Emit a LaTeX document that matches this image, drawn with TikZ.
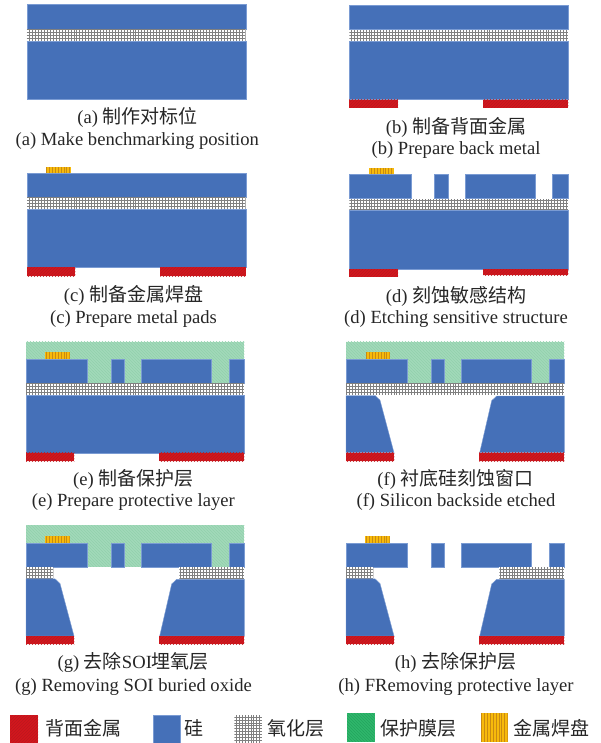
\documentclass[tikz,border=0pt]{standalone}
\usepackage{fontspec}
\setmainfont{Liberation Serif}
\newfontfamily\cjkf{Noto Sans CJK SC}
\usetikzlibrary{patterns}
\definecolor{siblue}{HTML}{4570B8}
\definecolor{siedge}{HTML}{7A9BD3}
\definecolor{metred}{HTML}{D2161E}
\definecolor{metredd}{HTML}{BC181D}
\definecolor{palegreen}{HTML}{A2D9BA}
\definecolor{palegreend}{HTML}{92D1AC}
\definecolor{deepgreen}{HTML}{2FB76C}
\definecolor{deepgreend}{HTML}{24A45E}
\definecolor{padgold}{HTML}{F7BA0B}
\definecolor{padline}{HTML}{C98A12}
\definecolor{oxline}{HTML}{808080}
\newcommand{\zh}[1]{{\fontsize{19}{21}\cjkf #1}}
\tikzset{
  siblock/.style={fill=siblue,draw=siedge,line width=.4pt},
  redmetal/.style={fill=metred,postaction={pattern=north east lines,pattern color=metredd}},
  greenfilm/.style={fill=palegreen,postaction={pattern=north west lines,pattern color=palegreend}},
  greenkey/.style={fill=deepgreen,postaction={pattern=north west lines,pattern color=deepgreend}},
  goldbase/.style={fill=padgold},
  gridline/.style={draw=oxline,line width=.45pt},
  padstripe/.style={draw=padline,line width=.5pt},
  capt/.style={anchor=base,inner sep=0pt,font=\fontsize{18.6}{20}\selectfont,text=black!85},
  keytext/.style={anchor=base west,inner sep=0pt,font=\fontsize{18}{20}\selectfont,text=black!85}
}
% x1 y1 x2 y2
\newcommand{\oxlayer}[4]{%
  \fill[white] (#1,#2) rectangle (#3,#4);
  \begin{scope}
    \clip (#1,#2) rectangle (#3,#4);
    \draw[gridline,xstep=2.95pt,ystep=2.95pt] (#1,#2) grid (#3,#4);
  \end{scope}}
\newcommand{\padlayer}[4]{%
  \fill[goldbase] (#1,#2) rectangle (#3,#4);
  \begin{scope}
    \clip (#1,#2) rectangle (#3,#4);
    \draw[padstripe,xstep=2.9pt,ystep=100pt] (#1,#2) grid (#3,#4);
  \end{scope}}
% the etched silicon device layer, left-hand column coordinates
\newcommand{\devlayer}{%
  \fill[siblock] (26,542.7) rectangle (86.7,566.7);
  \fill[siblock] (111,542.7) rectangle (124,566.7);
  \fill[siblock] (141.3,542.7) rectangle (211.3,566.7);
  \fill[siblock] (228.7,542.7) rectangle (244.3,566.7);}
\newcommand{\backside}[1]{%
  \fill[redmetal] (26,#1) rectangle (74.3,#1+8.3);
  \fill[redmetal] (159.3,#1) rectangle (244.3,#1+8.3);}
\newcommand{\etchedbulk}[1]{%
  \begin{scope}[yshift=-#1pt]
  \fill[siblock] (26,578.8) -- (55,578.8) -- (60,583.5) -- (74,636) -- (26,636) -- cycle;
  \fill[siblock] (159.7,636) -- (171.7,584) -- (176.7,579.3) -- (244.3,579.3) -- (244.3,636) -- cycle;
  \end{scope}}
\begin{document}
\begin{tikzpicture}[x=1pt,y=-1pt]
\useasboundingbox (0,0) rectangle (600,743);
% (a)
\fill[siblock] (26.7,4.7) rectangle (245.7,29);
\oxlayer{26.7}{29}{245.7}{41.3}
\fill[siblock] (26.7,41.3) rectangle (245.7,99.3);
\node[capt] (a1) at (137.5,124) {(a) \zh{制作对标位}};
\node[capt] (a2) at (137.3,145.5) {(a) Make benchmarking position};
% (b)
\fill[siblock] (349.3,5.3) rectangle (568.3,29.7);
\oxlayer{349.3}{29.7}{568.3}{41.3}
\fill[siblock] (349.3,41.3) rectangle (568.3,99.7);
\fill[redmetal] (349.3,99.7) rectangle (398,107.7);
\fill[redmetal] (483,99.7) rectangle (568.3,107.7);
\node[capt] (b1) at (456,133.5) {(b) \zh{制备背面金属}};
\node[capt] (b2) at (456,154.5) {(b) Prepare back metal};
% (c)
\fill[siblock] (27,173.3) rectangle (245.7,197);
\oxlayer{27}{197}{245.7}{209.7}
\fill[siblock] (27,209.7) rectangle (245.7,267.3);
\fill[redmetal] (27,267.3) rectangle (75.3,276);
\fill[redmetal] (160.3,267.3) rectangle (245.7,276);
\padlayer{46}{167}{71}{173.3}
\node[capt] (c1) at (133.5,301) {(c) \zh{制备金属焊盘}};
\node[capt] (c2) at (133.5,323) {(c) Prepare metal pads};
% (d)
\fill[siblock] (349.3,174.3) rectangle (410.7,198.7);
\fill[siblock] (434.3,174.3) rectangle (448,198.7);
\fill[siblock] (465,174.3) rectangle (535.3,198.7);
\fill[siblock] (552.3,174.3) rectangle (568.3,198.7);
\oxlayer{349.3}{198.7}{568.3}{210.7}
\fill[siblock] (349.3,210.7) rectangle (568.3,269);
\fill[redmetal] (349.3,269) rectangle (398,276.7);
\fill[redmetal] (483,269) rectangle (568.3,275);
\padlayer{369}{168}{393.5}{174.3}
\node[capt] (d1) at (456,302) {(d) \zh{刻蚀敏感结构}};
\node[capt] (d2) at (456,323) {(d) Etching sensitive structure};
% (e)
\fill[greenfilm] (26,341.7) rectangle (244.3,382.7);
\begin{scope}[yshift=184pt]\devlayer\end{scope}
\padlayer{45}{352.3}{69.7}{358.7}
\oxlayer{26}{382.7}{244.3}{394.7}
\fill[siblock] (26,394.7) rectangle (244.3,452.7);
\backside{452.7}
\node[capt] (e1) at (133.3,485) {(e) \zh{制备保护层}};
\node[capt] (e2) at (133.3,506.5) {(e) Prepare protective layer};
% (f)
\begin{scope}[xshift=320pt]
\fill[greenfilm] (26,341.7) rectangle (244.3,382.7);
\begin{scope}[yshift=184pt]\devlayer\end{scope}
\padlayer{45.7}{352.3}{69.7}{358.7}
\oxlayer{26}{382.7}{244.3}{394.7}
\etchedbulk{-183.3}
\backside{452.7}
\end{scope}
\node[capt] (f1) at (455.5,485) {(f) \zh{衬底硅刻蚀窗口}};
\node[capt] (f2) at (456,506.5) {(f) Silicon backside etched};
% (g)
\fill[greenfilm] (26,525.3) rectangle (244.3,566.7);
\devlayer
\padlayer{45}{536}{69.7}{542.7}
\oxlayer{26}{566.7}{53.3}{578.3}
\oxlayer{179.3}{566.7}{244.3}{578.3}
\etchedbulk{0}
\backside{636}
\node[capt] (g1) at (133.3,668.5) {(g) \zh{去除}SOI\zh{埋氧层}};
\node[capt] (g2) at (133.5,691) {(g) Removing SOI buried oxide};
% (h)
\begin{scope}[xshift=320pt]
\devlayer
\padlayer{45}{536}{69.7}{542.7}
\oxlayer{26}{566.7}{53.3}{578.3}
\oxlayer{179.3}{566.7}{244.3}{578.3}
\etchedbulk{0}
\backside{636}
\end{scope}
\node[capt] (h1) at (455.5,668.5) {(h) \zh{去除保护层}};
\node[capt] (h2) at (456,691) {(h) FRemoving protective layer};
% legend
\fill[redmetal] (10.3,715.3) rectangle (38,743);
\node[keytext] (k1) at (45,735) {\zh{背面金属}};
\fill[siblock] (153.3,715.3) rectangle (180.3,743);
\node[keytext] (k2) at (184.5,735) {\zh{硅}};
\oxlayer{234.3}{715.3}{262.3}{743}
\node[keytext] (k3) at (267.5,735) {\zh{氧化层}};
\fill[greenkey] (347,713) rectangle (374.7,741.7);
\node[keytext] (k4) at (380,735) {\zh{保护膜层}};
\padlayer{480.7}{713}{507.7}{741.7}
\node[keytext] (k5) at (513.3,735) {\zh{金属焊盘}};
\end{tikzpicture}
\end{document}
